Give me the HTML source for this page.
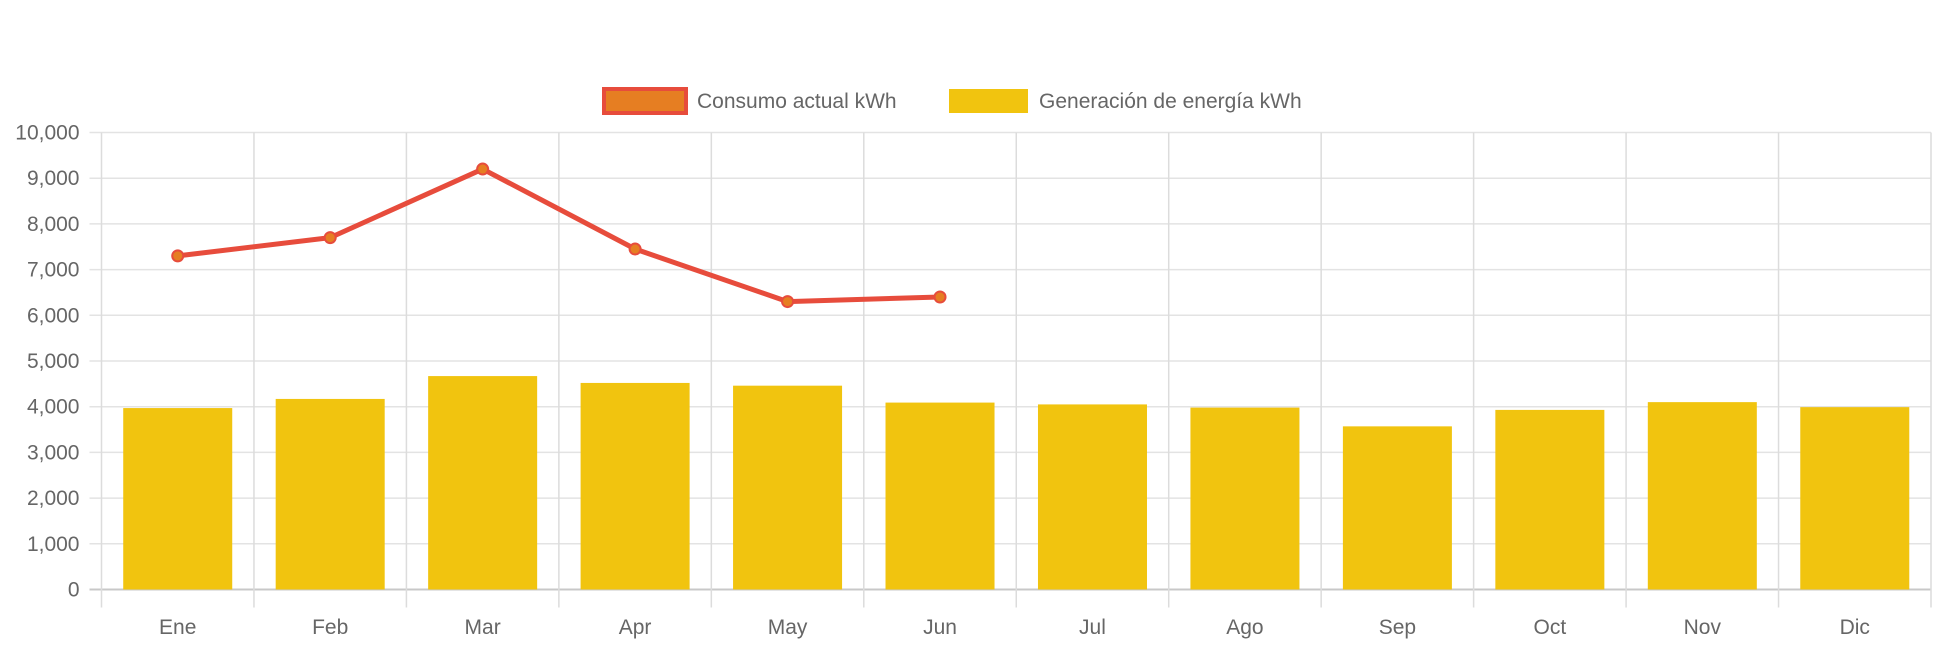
<!DOCTYPE html>
<html><head><meta charset="utf-8"><style>
body{margin:0;background:#fff;}
svg{display:block;font-family:"Liberation Sans",Arial,sans-serif;}
</style></head><body>
<svg id="chart" width="1942" height="646" viewBox="0 0 1942 646" xmlns="http://www.w3.org/2000/svg">
<g id="legend">
<g>
<rect x="604" y="89" width="82" height="24" fill="#e67e22" stroke="#e74c3c" stroke-width="4"/>
<text x="697" y="108" font-size="21" fill="#666">Consumo actual kWh</text>
</g>
<g>
<rect x="949" y="89" width="79" height="24" fill="#f1c40f"/>
<text x="1039" y="108" font-size="21" fill="#666">Generación de energía kWh</text>
</g>
</g>
<g id="grid"></g>
<g id="bars"></g>
<g id="line"></g>
<g id="axes"></g>
</svg>
<script>
const categories=["Ene","Feb","Mar","Apr","May","Jun","Jul","Ago","Sep","Oct","Nov","Dic"];
const consumo=[7300,7700,9200,7450,6300,6400];
const generacion=[3970,4170,4670,4520,4460,4090,4050,3980,3570,3930,4100,3990];
const yTicks=[0,1000,2000,3000,4000,5000,6000,7000,8000,9000,10000];
const yMax=10000;
const L=101.5,R=1931,T=132.5,B=589.5;
const NS="http://www.w3.org/2000/svg";
const bw=(R-L)/categories.length;
function x(i){return L+bw*(i+0.5);}
function y(v){return B-(v/yMax)*(B-T);}
function mk(tag,attrs,parent){const e=document.createElementNS(NS,tag);for(const k in attrs)e.setAttribute(k,attrs[k]);parent.appendChild(e);return e;}
const grid=document.getElementById('grid'),axes=document.getElementById('axes'),bars=document.getElementById('bars'),line=document.getElementById('line');
yTicks.forEach(t=>{
  const g=mk('line',{x1:L-12,x2:R,y1:y(t),y2:y(t),stroke:t===0?'#c8c8c8':'#e3e3e3','stroke-width':t===0?2:1.5},grid);
  
  
  const tx=mk('text',{x:L-22,y:y(t)+7,'text-anchor':'end','font-size':21,fill:'#666'},axes);
  tx.textContent=t.toLocaleString('en-US');
  
  
});
for(let i=0;i<=categories.length;i++){
  const gx=L+bw*i;
  const g=mk('line',{x1:gx,x2:gx,y1:T,y2:B+18,stroke:'#dcdcdc','stroke-width':1.5},grid);
  
  
}
categories.forEach((c,i)=>{
  const tx=mk('text',{x:x(i),y:634,'text-anchor':'middle','font-size':21,fill:'#666'},axes);
  tx.textContent=c;
  
  
});
generacion.forEach((v,i)=>{
  const w=bw*0.715;
  const r=mk('rect',{x:x(i)-w/2,y:y(v),width:w,height:B-y(v),fill:'#f1c40f'},bars);
  
  
});
const pts=consumo.map((v,i)=>x(i)+','+y(v)).join(' ');
const pl=mk('polyline',{points:pts,fill:'none',stroke:'#e74c3c','stroke-width':5,'stroke-linejoin':'round'},line);


consumo.forEach((v,i)=>{
  const c=mk('circle',{cx:x(i),cy:y(v),r:5.5,fill:'#e67e22',stroke:'#e74c3c','stroke-width':2},line);
  
  
});
</script>
</body></html>
